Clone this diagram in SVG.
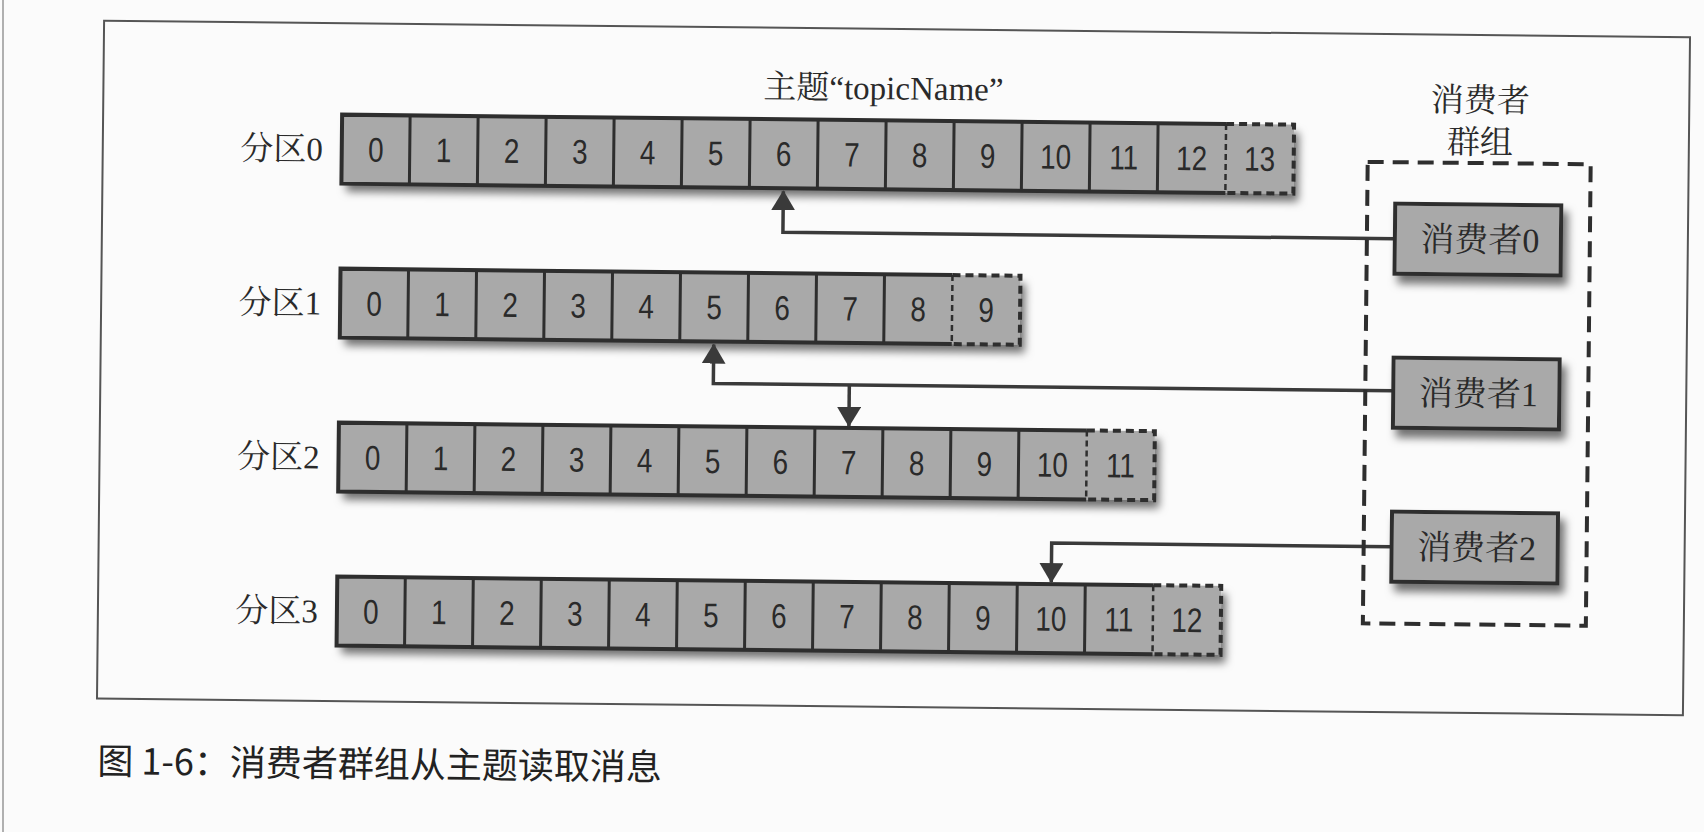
<svg xmlns="http://www.w3.org/2000/svg" width="1704" height="832" viewBox="0 0 1704 832">
<style>
.cellbg{fill:#a9a9a9;}
.solid{fill:none;stroke:#2e2e2e;stroke-width:4;stroke-linejoin:miter;}
.div{stroke:#2e2e2e;stroke-width:3;}
.dash{fill:none;stroke:#2e2e2e;stroke-width:4;stroke-dasharray:8 5;}
.ddiv{stroke:#2e2e2e;stroke-width:2.5;stroke-dasharray:6 4;}
.num{font-family:"Liberation Sans",sans-serif;font-size:34px;fill:#2a2a2a;text-anchor:middle;}
.lbl{font-family:"Liberation Serif","Noto Serif CJK SC","Noto Sans CJK SC",serif;font-size:33px;fill:#2a2a2a;}
.cons{fill:#a9a9a9;stroke:#2e2e2e;stroke-width:4;}
.ctext{font-family:"Liberation Serif","Noto Serif CJK SC","Noto Sans CJK SC",serif;font-size:34px;fill:#2a2a2a;text-anchor:middle;}
.conn{fill:none;stroke:#3a3a3a;stroke-width:3.5;}
.cap{font-family:"Noto Sans CJK SC","Liberation Sans",sans-serif;font-size:36px;fill:#222;font-weight:400;}
</style>
<defs>
<filter id="sh" x="-5%" y="-20%" width="115%" height="160%">
<feDropShadow dx="5" dy="8" stdDeviation="4" flood-color="#000" flood-opacity="0.55"/>
</filter>
<marker id="ah" markerUnits="userSpaceOnUse" viewBox="0 0 20 24" markerWidth="20" markerHeight="24" refX="19" refY="12" orient="auto">
<path d="M0,0 L20,12 L0,24 z" fill="#3a3a3a"/>
</marker>
</defs>
<rect x="0" y="0" width="1704" height="832" fill="#fbfbfb"/>
<line x1="3" y1="0" x2="3" y2="832" stroke="#b0b0b0" stroke-width="2"/>
<g transform="rotate(0.6 852 416)">
<rect id="frame" x="100" y="28.5" width="1586" height="678" fill="none" stroke="#555" stroke-width="2"/>
<text id="title" class="lbl" x="880" y="99" text-anchor="middle">主题“topicName”</text>

<g id="partition0">
<text class="lbl" x="320" y="166" text-anchor="end">分区0</text>
<rect class="cellbg" x="339" y="120" width="952" height="69" filter="url(#sh)"/>
<path class="solid" d="M1223,120 H339 V189 H1223"/>
<path class="div" d="M407,120V189M475,120V189M543,120V189M611,120V189M679,120V189M747,120V189M815,120V189M883,120V189M951,120V189M1019,120V189M1087,120V189M1155,120V189"/>
<path class="dash" d="M1223,120 H1291 V189 H1223"/>
<line class="ddiv" x1="1223" y1="120" x2="1223" y2="189"/>
<text class="num" transform="scale(0.82 1)" y="166.5"><tspan x="454.9">0</tspan><tspan x="537.8">1</tspan><tspan x="620.7">2</tspan><tspan x="703.7">3</tspan><tspan x="786.6">4</tspan><tspan x="869.5">5</tspan><tspan x="952.4">6</tspan><tspan x="1035.4">7</tspan><tspan x="1118.3">8</tspan><tspan x="1201.2">9</tspan><tspan x="1284.1">10</tspan><tspan x="1367.1">11</tspan><tspan x="1450">12</tspan><tspan x="1532.9">13</tspan></text>
</g>

<g id="partition1">
<text class="lbl" x="320" y="320" text-anchor="end">分区1</text>
<rect class="cellbg" x="339" y="274" width="680" height="69" filter="url(#sh)"/>
<path class="solid" d="M951,274 H339 V343 H951"/>
<path class="div" d="M407,274V343M475,274V343M543,274V343M611,274V343M679,274V343M747,274V343M815,274V343M883,274V343"/>
<path class="dash" d="M951,274 H1019 V343 H951"/>
<line class="ddiv" x1="951" y1="274" x2="951" y2="343"/>
<text class="num" transform="scale(0.82 1)" y="320.5"><tspan x="454.9">0</tspan><tspan x="537.8">1</tspan><tspan x="620.7">2</tspan><tspan x="703.7">3</tspan><tspan x="786.6">4</tspan><tspan x="869.5">5</tspan><tspan x="952.4">6</tspan><tspan x="1035.4">7</tspan><tspan x="1118.3">8</tspan><tspan x="1201.2">9</tspan></text>
</g>

<g id="partition2">
<text class="lbl" x="320" y="474" text-anchor="end">分区2</text>
<rect class="cellbg" x="339" y="428" width="816" height="69" filter="url(#sh)"/>
<path class="solid" d="M1087,428 H339 V497 H1087"/>
<path class="div" d="M407,428V497M475,428V497M543,428V497M611,428V497M679,428V497M747,428V497M815,428V497M883,428V497M951,428V497M1019,428V497"/>
<path class="dash" d="M1087,428 H1155 V497 H1087"/>
<line class="ddiv" x1="1087" y1="428" x2="1087" y2="497"/>
<text class="num" transform="scale(0.82 1)" y="474.5"><tspan x="454.9">0</tspan><tspan x="537.8">1</tspan><tspan x="620.7">2</tspan><tspan x="703.7">3</tspan><tspan x="786.6">4</tspan><tspan x="869.5">5</tspan><tspan x="952.4">6</tspan><tspan x="1035.4">7</tspan><tspan x="1118.3">8</tspan><tspan x="1201.2">9</tspan><tspan x="1284.1">10</tspan><tspan x="1367.1">11</tspan></text>
</g>

<g id="partition3">
<text class="lbl" x="320" y="628" text-anchor="end">分区3</text>
<rect class="cellbg" x="339" y="582" width="884" height="69" filter="url(#sh)"/>
<path class="solid" d="M1155,582 H339 V651 H1155"/>
<path class="div" d="M407,582V651M475,582V651M543,582V651M611,582V651M679,582V651M747,582V651M815,582V651M883,582V651M951,582V651M1019,582V651M1087,582V651"/>
<path class="dash" d="M1155,582 H1223 V651 H1155"/>
<line class="ddiv" x1="1155" y1="582" x2="1155" y2="651"/>
<text class="num" transform="scale(0.82 1)" y="628.5"><tspan x="454.9">0</tspan><tspan x="537.8">1</tspan><tspan x="620.7">2</tspan><tspan x="703.7">3</tspan><tspan x="786.6">4</tspan><tspan x="869.5">5</tspan><tspan x="952.4">6</tspan><tspan x="1035.4">7</tspan><tspan x="1118.3">8</tspan><tspan x="1201.2">9</tspan><tspan x="1284.1">10</tspan><tspan x="1367.1">11</tspan><tspan x="1450">12</tspan></text>
</g>

<g id="connectors">
<path class="conn" d="M1393,233 H781 V192" marker-end="url(#ah)"/>
<path class="conn" d="M1393,385 H713 V346" marker-end="url(#ah)"/>
<path class="conn" d="M849,385 V426" marker-end="url(#ah)"/>
<path class="conn" d="M1393,541 H1053 V580" marker-end="url(#ah)"/>
</g>

<g id="consumer-group">
<text class="lbl" x="1477" y="105" text-anchor="middle">消费者</text>
<text class="lbl" x="1477" y="147" text-anchor="middle">群组</text>
<rect x="1365" y="156.5" width="223" height="461.5" fill="none" stroke="#2e2e2e" stroke-width="4" stroke-dasharray="16 9"/>
</g>

<g id="consumer0">
<rect class="cons" x="1393" y="198" width="166" height="70" filter="url(#sh)"/>
<text class="ctext" x="1478" y="245">消费者0</text>
</g>
<g id="consumer1">
<rect class="cons" x="1393" y="352" width="166" height="70" filter="url(#sh)"/>
<text class="ctext" x="1478" y="399">消费者1</text>
</g>
<g id="consumer2">
<rect class="cons" x="1393" y="506" width="166" height="70" filter="url(#sh)"/>
<text class="ctext" x="1478" y="553">消费者2</text>
</g>

<text id="caption" class="cap" x="101" y="782">图 1-6：消费者群组从主题读取消息</text>
</g>
</svg>
